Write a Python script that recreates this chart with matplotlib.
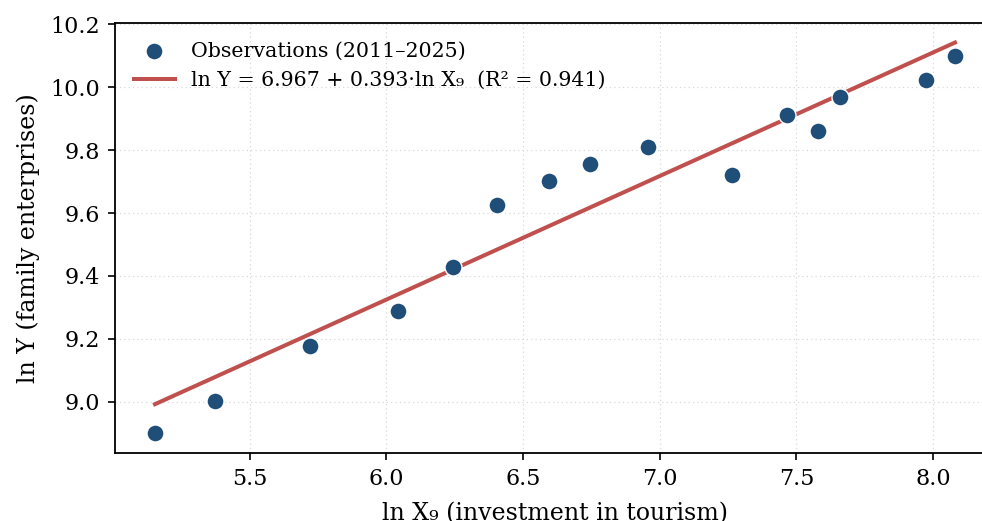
import matplotlib
matplotlib.use("Agg")
import matplotlib.pyplot as plt
import numpy as np

ln_x9 = [5.153, 5.372, 5.719, 6.041, 6.242, 6.406, 6.593, 6.746, 6.958, 7.265, 7.466, 7.580, 7.660, 7.974, 8.080]
ln_y = [8.899, 9.003, 9.177, 9.288, 9.427, 9.627, 9.703, 9.757, 9.811, 9.722, 9.912, 9.861, 9.969, 10.023, 10.099]
intercept = 6.967
slope = 0.393
r2 = 0.941

plt.rcParams['font.family'] = ['DejaVu Serif']

fig = plt.figure(figsize=(9.82, 5.21), dpi=100)
ax = fig.add_axes([115/982, 68/521, 880/982, 430/521])

ax.scatter(ln_x9, ln_y, s=150, color='#1f4e79', edgecolor='white', linewidth=1.0,
           zorder=3, label='Observations (2011–2025)')
xs = np.array([min(ln_x9), max(ln_x9)])
ax.plot(xs, intercept + slope * xs, color='#c0504d', lw=2.9, zorder=2,
        label=f'ln Y = {intercept:.3f} + {slope:.3f}·ln X₉  (R² = {r2:.3f})')

ax.set_xticks([5.5, 6.0, 6.5, 7.0, 7.5, 8.0])
ax.set_yticks([9.0, 9.2, 9.4, 9.6, 9.8, 10.0, 10.2])
ax.tick_params(labelsize=16, length=5.25, width=1.2, pad=5.25)
ax.set_xlabel('ln X₉ (investment in tourism)', fontsize=17, labelpad=9)
ax.set_ylabel('ln Y (family enterprises)', fontsize=17, labelpad=8)
ax.grid(True, linestyle=(0, (1, 2.5)), color='#d9d9d9', linewidth=0.9)
ax.set_axisbelow(True)
for s in ax.spines.values():
    s.set_linewidth(1.3)
ax.spines['right'].set_visible(False)
leg = ax.legend(loc='upper left', fontsize=14.8, frameon=False)
fig.savefig('out.png', dpi=100)
